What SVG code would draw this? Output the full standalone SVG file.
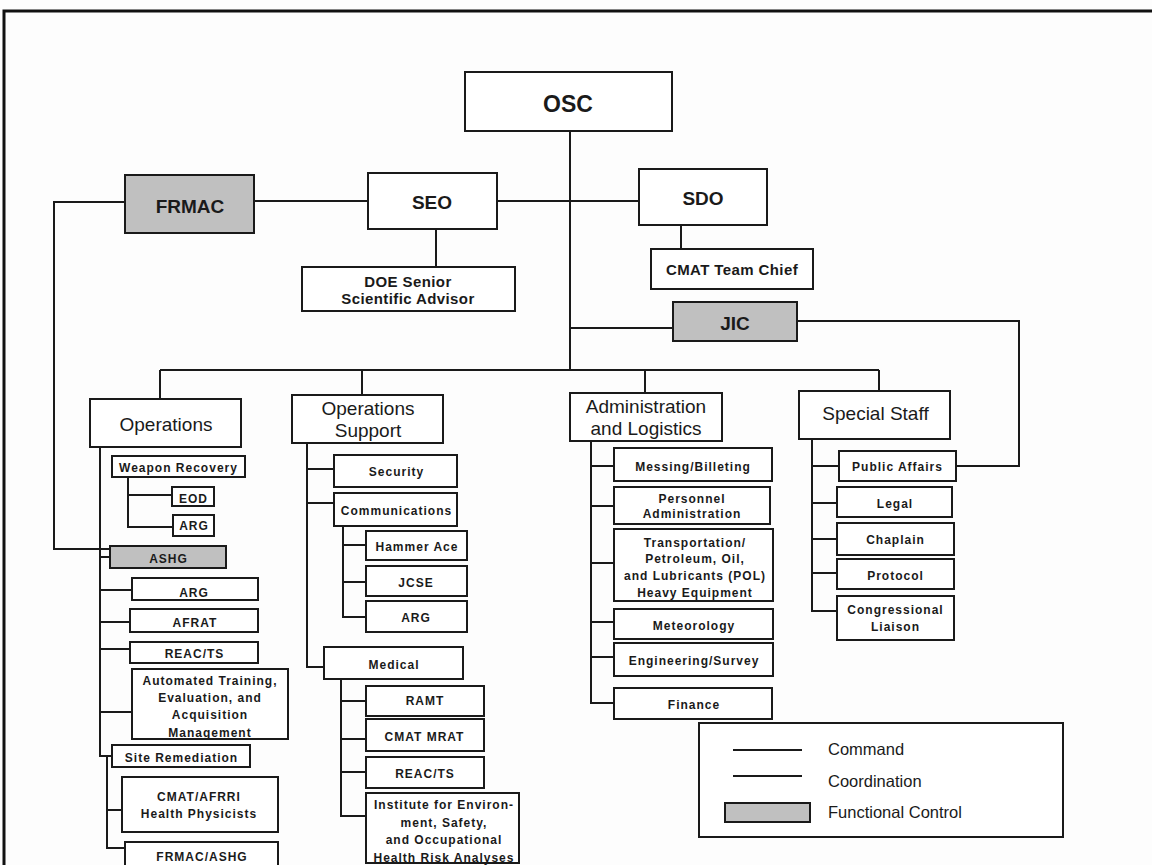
<svg xmlns="http://www.w3.org/2000/svg" width="1152" height="865" viewBox="0 0 1152 865">
  <style>
    .box { fill: #ffffff; stroke: #1a1a1a; stroke-width: 2; }
    .fc { fill: #c0c0c0; stroke: #1a1a1a; stroke-width: 2; }
    .ln { fill: none; stroke: #1a1a1a; stroke-width: 2; }
    text { font-family: "Liberation Sans", Arial, sans-serif; fill: #1a1a1a; text-anchor: middle; }
    .top { font-size: 23px; font-weight: bold; }
    .key { font-size: 19px; font-weight: bold; }
    .hd { font-size: 19px; }
    .md { font-size: 15px; font-weight: bold; letter-spacing: 0.4px; }
    .sm { font-size: 12px; font-weight: bold; letter-spacing: 1px; }
    .lg { font-size: 16.5px; text-anchor: start; }
  </style>

  <rect x="0" y="0" width="1152" height="865" fill="#fdfdfd"/>
  <!-- page frame -->
  <path d="M4 865 V11 H1152" fill="none" stroke="#111" stroke-width="3"/>

  <g id="connectors" class="ln">
    <path d="M570 131 V370"/>
    <path d="M160 370 H879"/>
    <path d="M160 370 V399 M362 370 V395 M645 370 V393 M879 370 V391"/>
    <path d="M254 201 H368"/>
    <path d="M497 201 H639"/>
    <path d="M436 229 V267"/>
    <path d="M681 225 V249"/>
    <path d="M570 328 H673"/>
    <path d="M125 202 H54 V549 H110"/>
    <path d="M797 321 H1019 V466 H956"/>
    <!-- Operations -->
    <path d="M100 447 V756 H112"/>
    <path d="M100 557 H110 M100 590 H132 M100 622 H130 M100 649 H130 M100 712 H132"/>
    <path d="M128 477 V527 H173 M128 495 H172"/>
    <path d="M107 756 V848 H125 M107 810 H122"/>
    <!-- Operations Support -->
    <path d="M307 443 V667 H324 M307 469 H334 M307 503 H334"/>
    <path d="M343 526 V617 H366 M343 545 H366 M343 582 H366"/>
    <path d="M341 679 V816 H366 M341 701 H366 M341 739 H366 M341 772 H366"/>
    <!-- Administration and Logistics -->
    <path d="M591 441 V703 H614 M591 466 H614 M591 506 H614 M591 563 H614 M591 622 H614 M591 657 H614"/>
    <!-- Special Staff -->
    <path d="M812 440 V611 H837 M812 466 H839 M812 503 H837 M812 539 H837 M812 573 H837"/>
  </g>

  <g id="osc"><rect class="box" x="465" y="72" width="207" height="59"/><text class="top" x="568" y="112">OSC</text></g>
  <g id="frmac"><rect class="fc" x="125" y="175" width="129" height="58"/><text class="key" x="190" y="213">FRMAC</text></g>
  <g id="seo"><rect class="box" x="368" y="173" width="129" height="56"/><text class="key" x="432" y="209">SEO</text></g>
  <g id="sdo"><rect class="box" x="639" y="169" width="128" height="56"/><text class="key" x="703" y="204.5">SDO</text></g>
  <g id="cmat-chief"><rect class="box" x="651" y="249" width="162" height="40"/><text class="md" x="732" y="274.5">CMAT Team Chief</text></g>
  <g id="doe"><rect class="box" x="302" y="267" width="213" height="44"/><text class="md" x="408" y="287">DOE Senior</text><text class="md" x="408" y="304">Scientific Advisor</text></g>
  <g id="jic"><rect class="fc" x="673" y="302" width="124" height="39"/><text class="key" x="735" y="330">JIC</text></g>

  <g id="operations"><rect class="box" x="90" y="399" width="151" height="48"/><text class="hd" x="166" y="431">Operations</text></g>
  <g id="ops-support"><rect class="box" x="292" y="395" width="151" height="48"/><text class="hd" x="368" y="415">Operations</text><text class="hd" x="368" y="436.5">Support</text></g>
  <g id="admin"><rect class="box" x="570" y="393" width="152" height="48"/><text class="hd" x="646" y="412.7">Administration</text><text class="hd" x="646" y="434.5">and Logistics</text></g>
  <g id="special-staff"><rect class="box" x="799" y="391" width="151" height="48"/><text class="hd" x="875.5" y="420">Special Staff</text></g>

  <!-- Operations branch -->
  <g id="weapon-recovery"><rect class="box" x="112" y="456" width="133" height="21"/><text class="sm" x="178.5" y="471.5">Weapon Recovery</text></g>
  <g id="eod"><rect class="box" x="172" y="487" width="42" height="19"/><text class="sm" x="193.5" y="502.5">EOD</text></g>
  <g id="arg-wr"><rect class="box" x="173" y="515" width="41" height="21"/><text class="sm" x="194" y="530">ARG</text></g>
  <g id="ashg"><rect class="fc" x="110" y="546" width="116" height="22"/><text class="sm" x="168.5" y="562.5">ASHG</text></g>
  <g id="arg-ops"><rect class="box" x="132" y="578" width="126" height="22"/><text class="sm" x="194" y="596.5">ARG</text></g>
  <g id="afrat"><rect class="box" x="130" y="609" width="128" height="23"/><text class="sm" x="195" y="626.5">AFRAT</text></g>
  <g id="reacts-ops"><rect class="box" x="130" y="642" width="128" height="21"/><text class="sm" x="194.5" y="658">REAC/TS</text></g>
  <g id="ateam"><rect class="box" x="132" y="669" width="156" height="70"/>
    <text class="sm" x="210" y="685">Automated Training,</text>
    <text class="sm" x="210" y="701.7">Evaluation, and</text>
    <text class="sm" x="210" y="719">Acquisition</text>
    <text class="sm" x="210" y="736.5">Management</text></g>
  <g id="site-remediation"><rect class="box" x="112" y="745" width="138" height="22"/><text class="sm" x="181.5" y="762.3">Site Remediation</text></g>
  <g id="cmat-afrri"><rect class="box" x="122" y="777" width="156" height="55"/>
    <text class="sm" x="199" y="801">CMAT/AFRRI</text>
    <text class="sm" x="199" y="818.3">Health Physicists</text></g>
  <g id="frmac-ashg"><rect class="box" x="125" y="842" width="153" height="30"/><text class="sm" x="202" y="861">FRMAC/ASHG</text></g>

  <!-- Operations Support branch -->
  <g id="security"><rect class="box" x="334" y="455" width="123" height="32"/><text class="sm" x="396.5" y="475.5">Security</text></g>
  <g id="communications"><rect class="box" x="334" y="493" width="123" height="33"/><text class="sm" x="396.5" y="514.5">Communications</text></g>
  <g id="hammer-ace"><rect class="box" x="366" y="531" width="101" height="29"/><text class="sm" x="417" y="550.5">Hammer Ace</text></g>
  <g id="jcse"><rect class="box" x="366" y="566" width="101" height="30"/><text class="sm" x="416" y="586.5">JCSE</text></g>
  <g id="arg-comm"><rect class="box" x="366" y="601" width="101" height="31"/><text class="sm" x="416" y="622">ARG</text></g>
  <g id="medical"><rect class="box" x="324" y="647" width="139" height="32"/><text class="sm" x="394" y="669">Medical</text></g>
  <g id="ramt"><rect class="box" x="366" y="686" width="118" height="30"/><text class="sm" x="425" y="705">RAMT</text></g>
  <g id="cmat-mrat"><rect class="box" x="366" y="719" width="118" height="32"/><text class="sm" x="424.5" y="741">CMAT MRAT</text></g>
  <g id="reacts-med"><rect class="box" x="366" y="757" width="118" height="31"/><text class="sm" x="425" y="778">REAC/TS</text></g>
  <g id="institute"><rect class="box" x="366" y="793" width="153" height="70"/>
    <text class="sm" x="444" y="809">Institute for Environ-</text>
    <text class="sm" x="444" y="826.5">ment, Safety,</text>
    <text class="sm" x="444" y="844">and Occupational</text>
    <text class="sm" x="444" y="861.5">Health Risk Analyses</text></g>

  <!-- Administration and Logistics branch -->
  <g id="messing"><rect class="box" x="614" y="448" width="158" height="33"/><text class="sm" x="693" y="470.5">Messing/Billeting</text></g>
  <g id="personnel"><rect class="box" x="614" y="487" width="156" height="37"/>
    <text class="sm" x="692" y="502.5">Personnel</text>
    <text class="sm" x="692" y="518">Administration</text></g>
  <g id="transportation"><rect class="box" x="614" y="529" width="159" height="72"/>
    <text class="sm" x="695" y="547.3">Transportation/</text>
    <text class="sm" x="695" y="563.3">Petroleum, Oil,</text>
    <text class="sm" x="695" y="580">and Lubricants (POL)</text>
    <text class="sm" x="695" y="597">Heavy Equipment</text></g>
  <g id="meteorology"><rect class="box" x="614" y="609" width="159" height="30"/><text class="sm" x="694" y="629.5">Meteorology</text></g>
  <g id="engineering"><rect class="box" x="614" y="643" width="159" height="33"/><text class="sm" x="694" y="664.5">Engineering/Survey</text></g>
  <g id="finance"><rect class="box" x="614" y="688" width="158" height="31"/><text class="sm" x="694" y="709">Finance</text></g>

  <!-- Special Staff branch -->
  <g id="public-affairs"><rect class="box" x="839" y="451" width="117" height="30"/><text class="sm" x="897.5" y="470.5">Public Affairs</text></g>
  <g id="legal"><rect class="box" x="837" y="487" width="115" height="30"/><text class="sm" x="895" y="507.5">Legal</text></g>
  <g id="chaplain"><rect class="box" x="837" y="523" width="117" height="32"/><text class="sm" x="895.5" y="543.5">Chaplain</text></g>
  <g id="protocol"><rect class="box" x="837" y="559" width="117" height="30"/><text class="sm" x="895.5" y="579.5">Protocol</text></g>
  <g id="congressional"><rect class="box" x="837" y="596" width="117" height="44"/>
    <text class="sm" x="895.5" y="614">Congressional</text>
    <text class="sm" x="895.5" y="631">Liaison</text></g>

  <!-- key -->
  <g id="legend">
    <rect class="box" x="699" y="723" width="364" height="114"/>
    <path class="ln" d="M733 750 H802 M733 776 H802"/>
    <rect class="fc" x="725" y="803" width="85" height="19"/>
    <text class="lg" x="828" y="755">Command</text>
    <text class="lg" x="828" y="786.5">Coordination</text>
    <text class="lg" x="828" y="818.3">Functional Control</text>
  </g>
</svg>
